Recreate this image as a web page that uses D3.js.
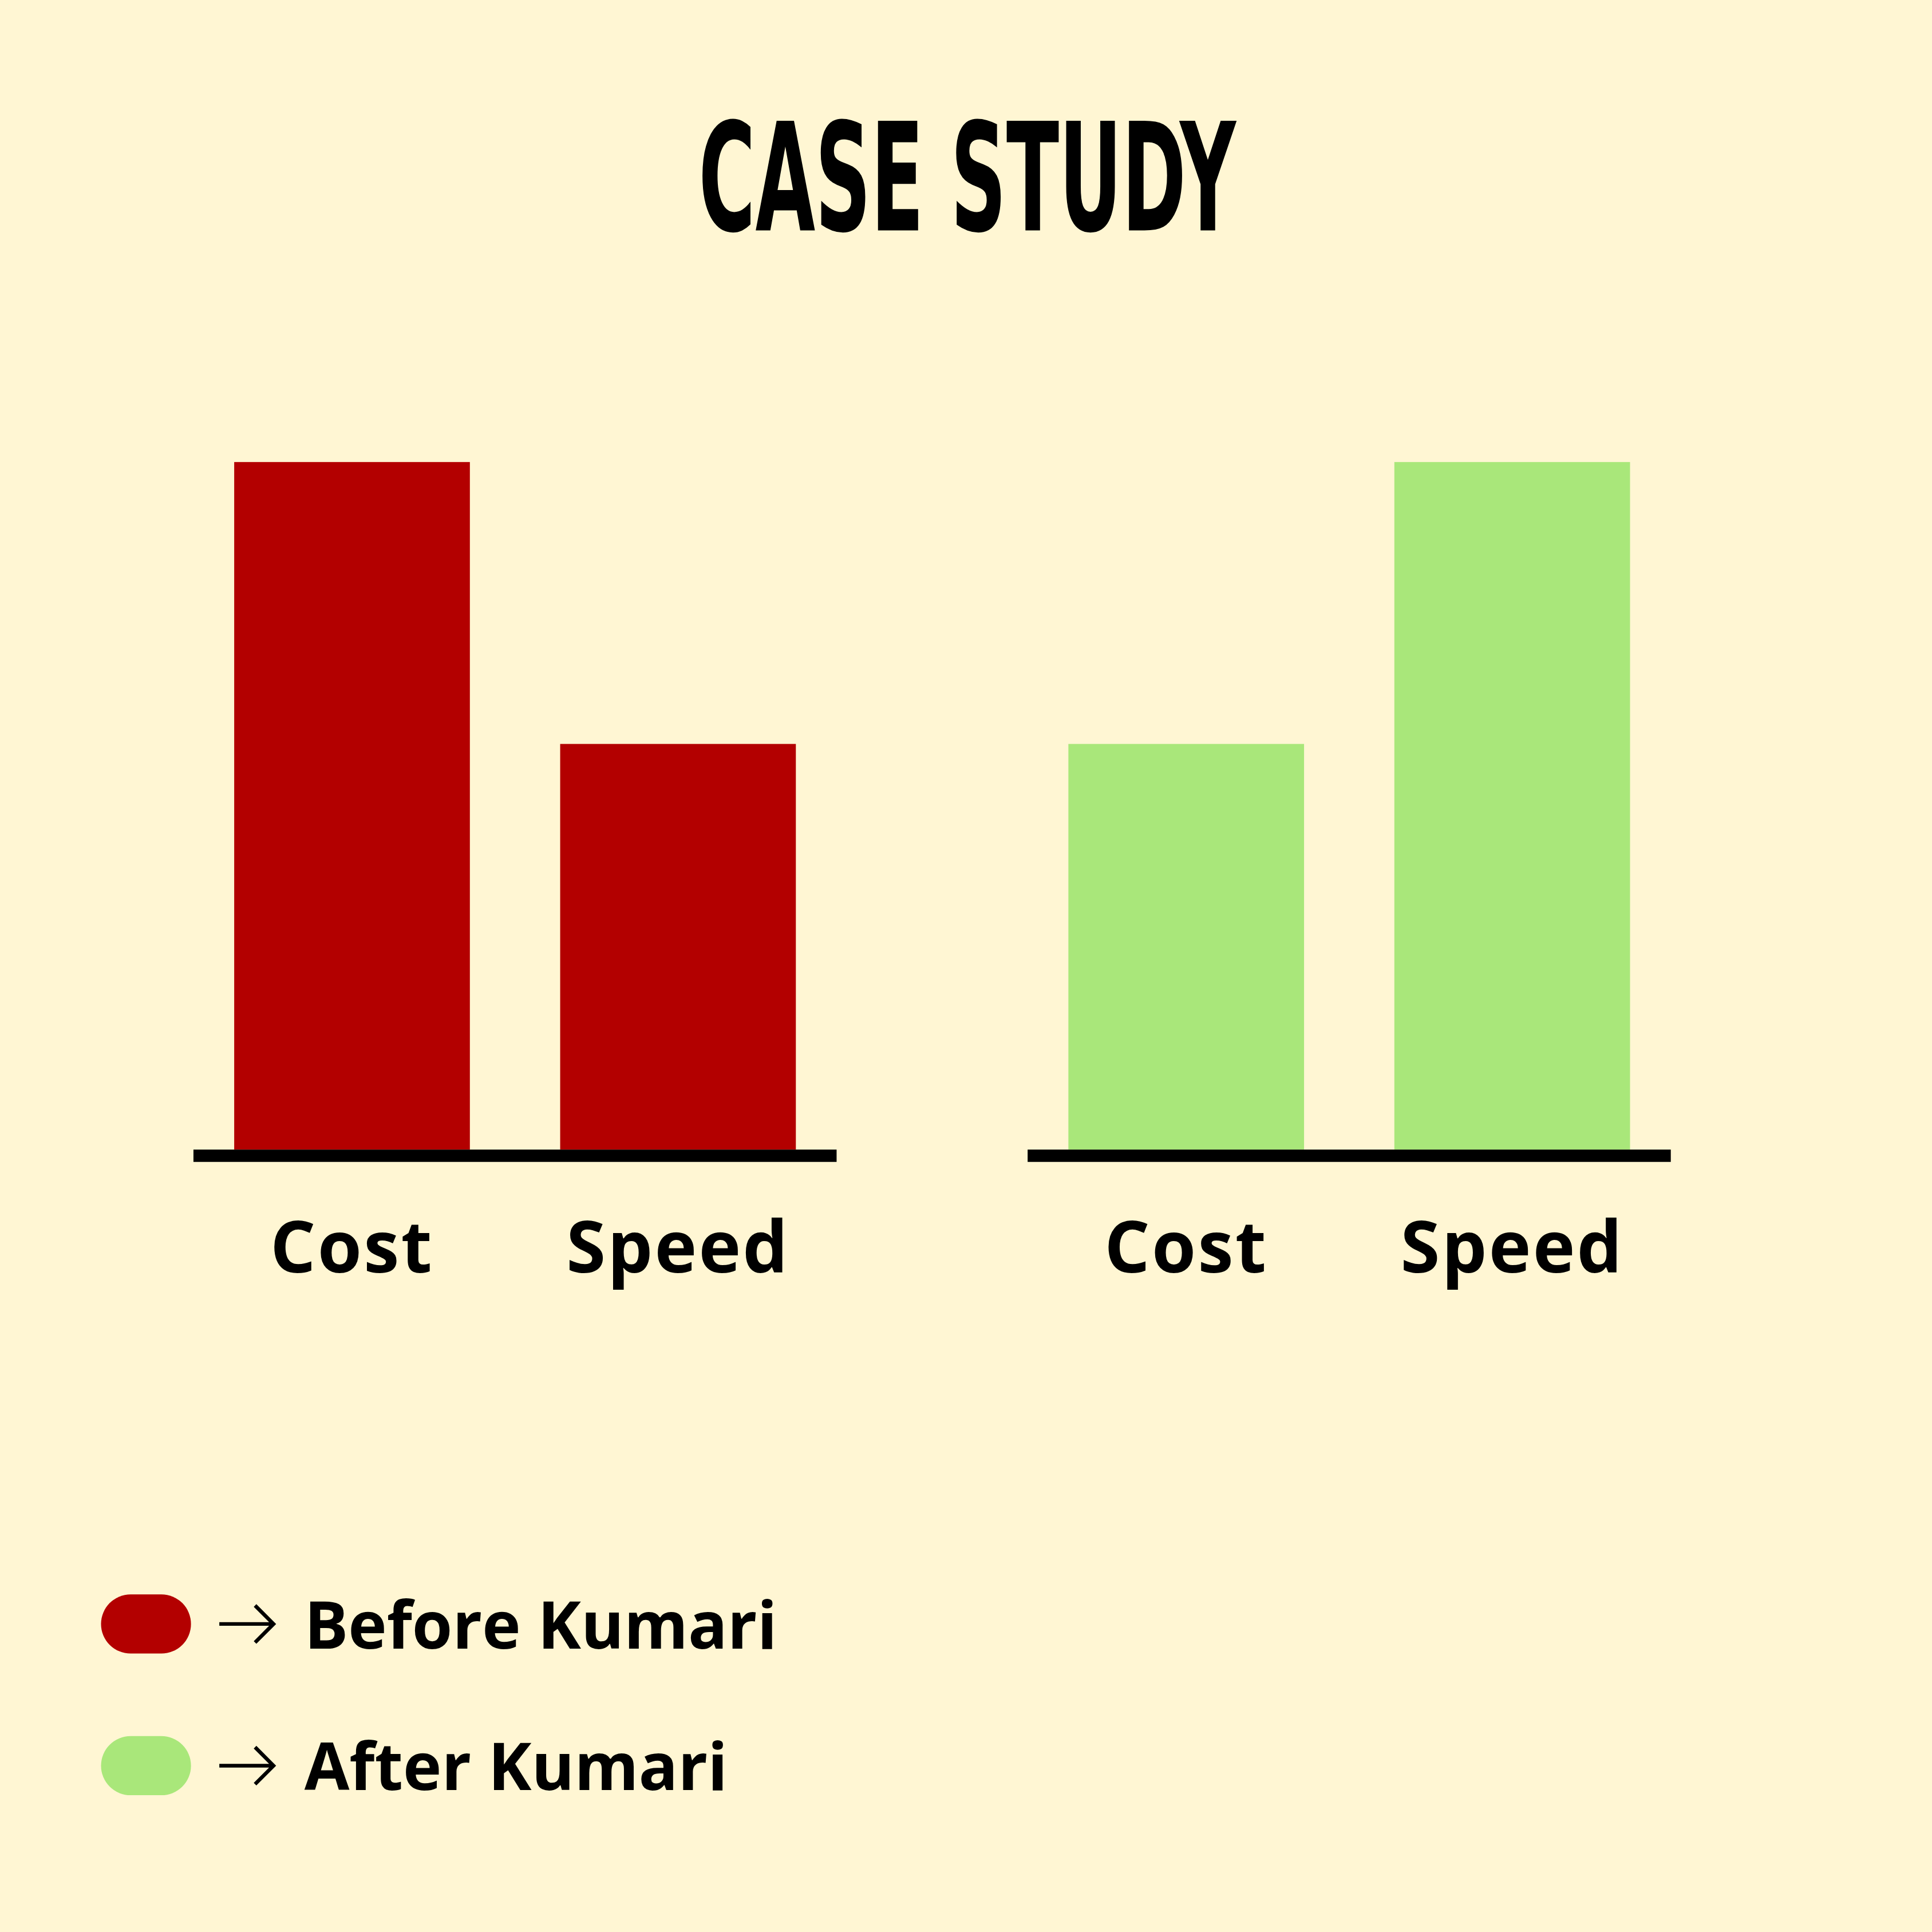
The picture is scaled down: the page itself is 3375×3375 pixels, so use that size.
<!DOCTYPE html>
<html>
<head>
<meta charset="utf-8">
<script src="https://cdn.jsdelivr.net/npm/d3@7"></script>
<style>
  html, body { margin: 0; padding: 0; background: #FFF6D3; }
  svg { display: block; }
</style>
</head>
<body>
<svg id="chart" width="3375" height="3375" viewBox="0 0 1568 1568"></svg>
<script>
const groups = ['Before Kumari', 'After Kumari'];
const metrics = ['Cost', 'Speed'];
const beforeValues = [100, 59];
const afterValues = [59, 100];
const colors = ['#B30000', '#A9E77A'];

const svg = d3.select('#chart');
svg.append('rect').attr('width', 1568).attr('height', 1568).attr('fill', '#FFF6D3');

svg.append('text')
    .attr('x', 567).attr('y', 187)
    .attr('textLength', 436)
    .attr('lengthAdjust', 'spacingAndGlyphs')
    .attr('font-family', '"DejaVu Sans Condensed", "Liberation Sans Narrow", sans-serif')
    .attr('font-weight', 'bold')
    .attr('font-size', 122)
    .attr('fill', '#000')
    .text('CASE STUDY');

const xGroup = d3.scaleBand().domain(groups).range([157, 1356]).paddingInner(0.229);
const xInner = d3.scaleBand().domain(metrics).range([0, xGroup.bandwidth()])
    .paddingInner(0.277).paddingOuter(0.125);
const y = d3.scaleLinear().domain([0, 100]).range([933, 375]);

const data = groups.map((g, i) => ({
    group: g, color: colors[i],
    values: metrics.map((m, j) => ({ metric: m, value: (i === 0 ? beforeValues : afterValues)[j] }))
}));

const gs = svg.selectAll('.grp').data(data).enter().append('g')
    .attr('transform', d => `translate(${xGroup(d.group)},0)`);

gs.selectAll('rect').data(d => d.values.map(v => ({ ...v, color: d.color }))).enter().append('rect')
    .attr('x', d => xInner(d.metric))
    .attr('width', xInner.bandwidth())
    .attr('y', d => y(d.value))
    .attr('height', d => y(0) - y(d.value))
    .attr('fill', d => d.color);

gs.append('rect')
    .attr('x', 0).attr('y', 933)
    .attr('width', xGroup.bandwidth()).attr('height', 10)
    .attr('fill', '#000');

gs.selectAll('.lbl').data(metrics).enter().append('text')
    .attr('x', d => xInner(d) + xInner.bandwidth() / 2)
    .attr('y', 1033)
    .attr('text-anchor', 'middle')
    .attr('font-family', '"Open Sans", sans-serif')
    .attr('font-weight', 'bold')
    .attr('font-size', 58)
    .attr('letter-spacing', 1.5)
    .attr('fill', '#000')
    .text(d => d);

const legend = svg.selectAll('.leg').data(data).enter().append('g')
    .attr('transform', (d, i) => `translate(0,${1318 + i * 115})`);
legend.append('rect')
    .attr('x', 82).attr('y', -24).attr('width', 73).attr('height', 48)
    .attr('rx', 24).attr('fill', d => d.color);
legend.append('path')
    .attr('d', 'M178,0 H222 M207,-15 L222,0 L207,15')
    .attr('fill', 'none').attr('stroke', '#000').attr('stroke-width', 3);
legend.append('text')
    .attr('x', 247).attr('y', 20)
    .attr('font-family', '"Open Sans", sans-serif')
    .attr('font-weight', 'bold')
    .attr('font-size', 53)
    .attr('fill', '#000')
    .text(d => d.group);
</script>
</body>
</html>
